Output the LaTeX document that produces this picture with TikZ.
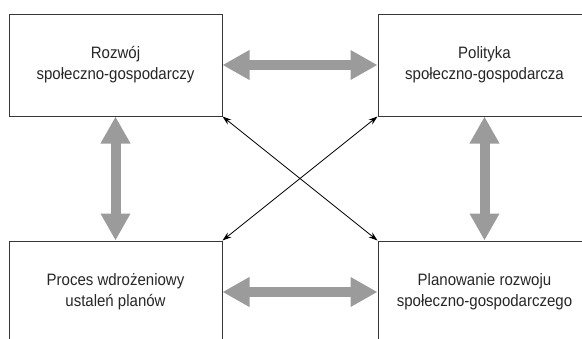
\documentclass[tikz,border=0pt]{standalone}
\usepackage{fontspec}
\setmainfont{Liberation Sans}
\newfontfamily\boxfont[FakeStretch=0.91]{Liberation Sans}
\usepackage{tikz}
\usetikzlibrary{positioning,arrows.meta}
\definecolor{arrowgray}{RGB}{155,155,155}
\definecolor{boxgray}{RGB}{55,55,55}

\begin{document}
\begin{tikzpicture}[x=1pt,y=-1pt,>={Stealth[length=9pt,width=6pt]}]

  % styles
  \tikzstyle{area}=[rectangle,draw=boxgray,line width=1pt,minimum width=213pt,minimum height=102pt,inner sep=0pt,align=center,text=black!85,font=\boxfont\fontsize{16.5}{21}\selectfont]
  \tikzstyle{flow}=[draw=arrowgray,line width=10pt,{Triangle[length=27pt,width=28pt,fill=arrowgray]}-{Triangle[length=27pt,width=28pt,fill=arrowgray]}]
  \tikzstyle{link}=[<->,line width=0.8pt,black]

  \useasboundingbox (0,0) rectangle (582,338);
  \clip (0,0) rectangle (582,338);

  % boxes
  \node[area] (rozwoj) at (115.5,65) {Rozwój\\społeczno-gospodarczy};
  \node[area] (polityka) [right=155pt of rozwoj] {Polityka\\społeczno-gospodarcza};
  \node[area] (proces) [below=124pt of rozwoj] {Proces wdrożeniowy\\ustaleń planów};
  \node[area] (planowanie) [below=124pt of polityka] {Planowanie rozwoju\\społeczno-gospodarczego};

  % thick arrows
  \draw[flow] (rozwoj) -- (polityka);
  \draw[flow] (rozwoj) -- (proces);
  \draw[flow] (polityka) -- (planowanie);
  \draw[flow] (proces) -- (planowanie);

  % thin crossing arrows
  \draw[link] (rozwoj.south east) -- (planowanie.north west);
  \draw[link] (polityka.south west) -- (proces.north east);

\end{tikzpicture}
\end{document}
